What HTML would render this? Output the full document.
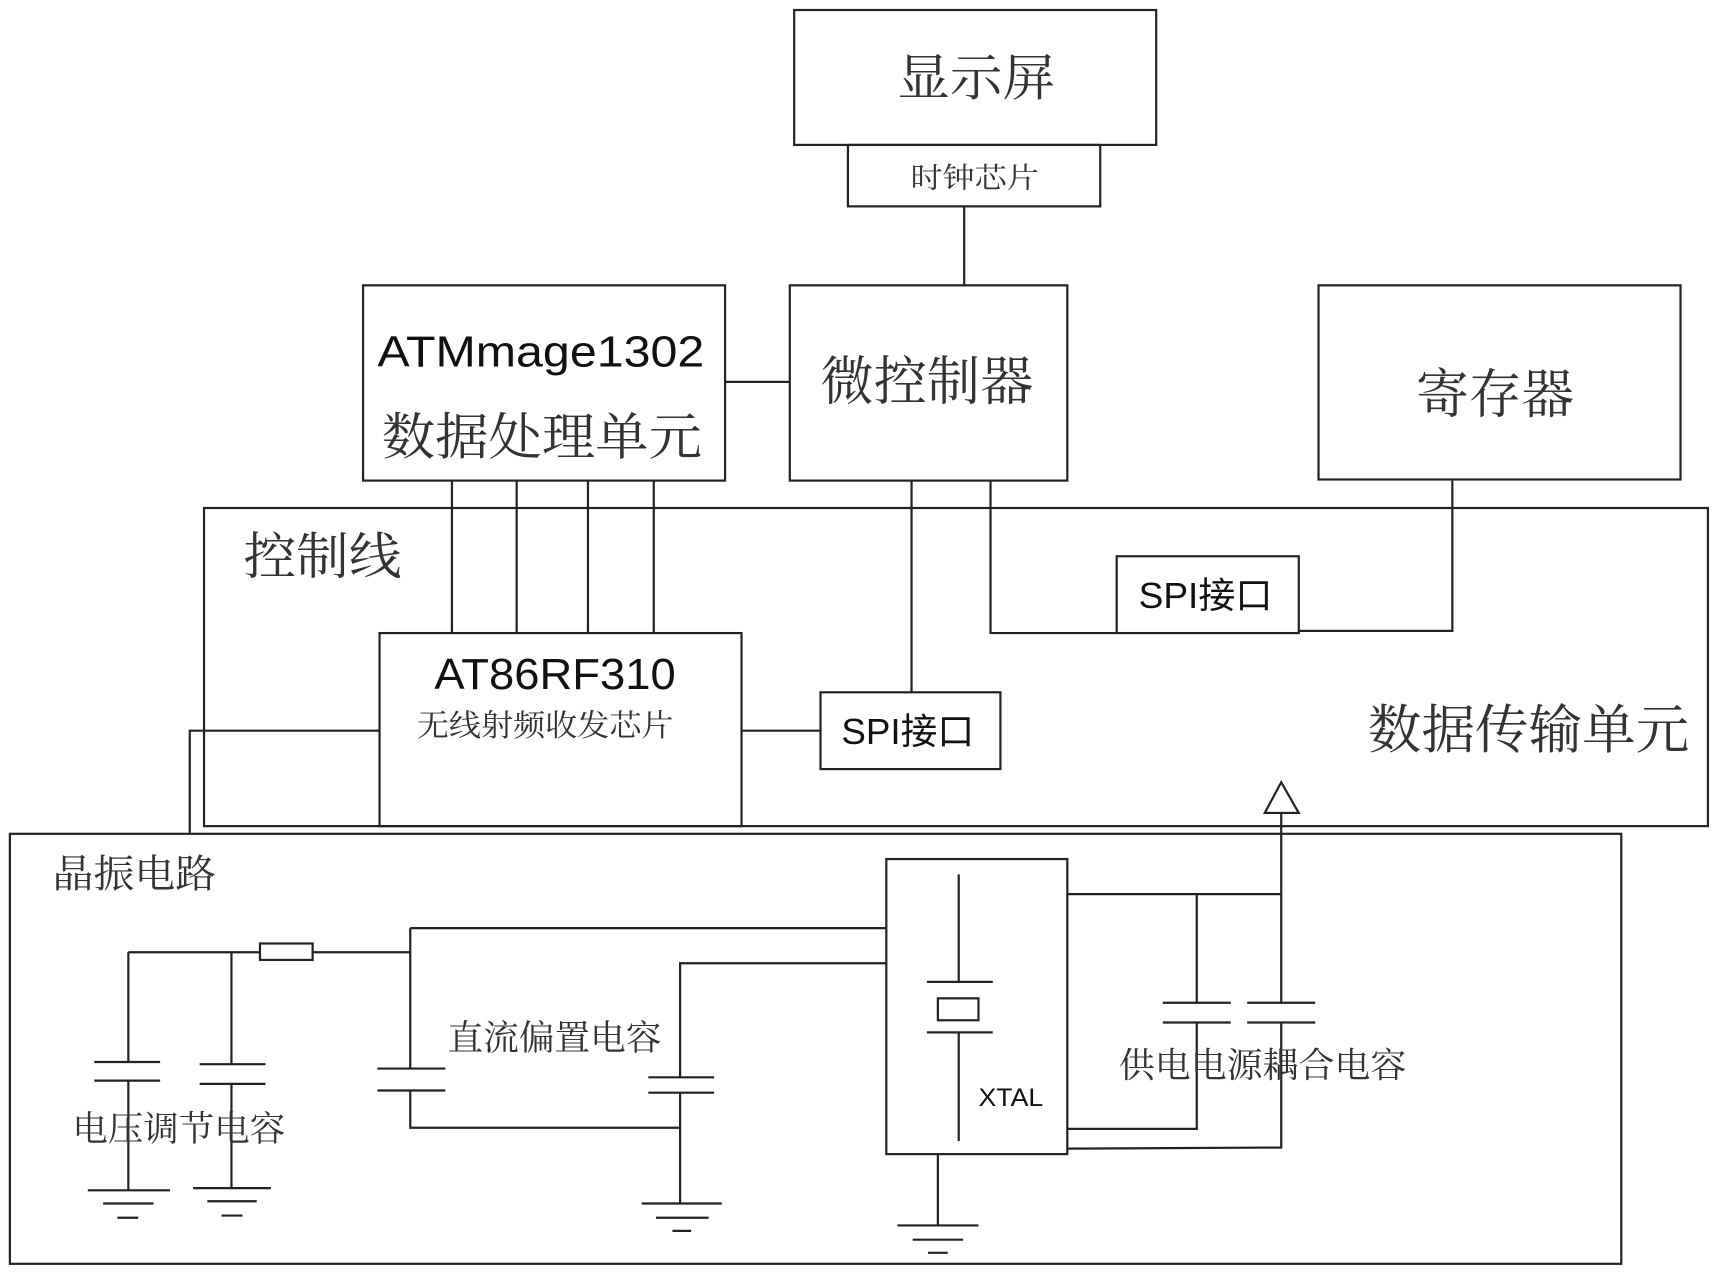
<!DOCTYPE html>
<html><head><meta charset="utf-8"><style>
html,body{margin:0;padding:0;background:#fff;}
svg{display:block;}
text{font-family:"Liberation Sans","Noto Serif CJK SC",serif;fill:#333;}
.s{font-family:"Liberation Sans","Noto Sans CJK SC",sans-serif;fill:#111;}
</style></head><body>
<svg width="1720" height="1276" viewBox="0 0 1568 1163" xmlns="http://www.w3.org/2000/svg">
<g fill="none" stroke="#222" stroke-width="2">
<rect x="724" y="9" width="330" height="123"/>
<rect x="773" y="132" width="230" height="56"/>
<line x1="879" y1="188" x2="879" y2="260"/>
<rect x="331" y="260" width="330" height="178"/>
<line x1="661" y1="348" x2="720" y2="348"/>
<rect x="720" y="260" width="253" height="178"/>
<rect x="1202" y="260" width="330" height="177"/>
<rect x="186" y="463" width="1371" height="290"/>
<line x1="412" y1="438" x2="412" y2="577"/>
<line x1="471" y1="438" x2="471" y2="577"/>
<line x1="536" y1="438" x2="536" y2="577"/>
<line x1="596" y1="438" x2="596" y2="577"/>
<rect x="346" y="577" width="330" height="176"/>
<line x1="676" y1="666" x2="748" y2="666"/>
<rect x="748" y="631" width="164" height="70"/>
<line x1="831" y1="438" x2="831" y2="631"/>
<polyline points="903,438 903,577 1018,577"/>
<rect x="1018" y="507" width="166" height="70"/>
<polyline points="1184,575 1324,575 1324,438"/>
<polyline points="346,666 173,666 173,760"/>
<polygon points="1168,713 1153,741 1184,741"/>
<line x1="1168" y1="741" x2="1168" y2="815"/>
<rect x="9" y="760" width="1469" height="392"/>
<rect x="808" y="783" width="165" height="269"/>
<line x1="874" y1="797" x2="874" y2="895"/>
<line x1="845" y1="895" x2="905" y2="895"/>
<rect x="855" y="910" width="37" height="20"/>
<line x1="845" y1="941" x2="905" y2="941"/>
<line x1="874" y1="941" x2="874" y2="1040"/>
<line x1="973" y1="815" x2="1168" y2="815"/>
<line x1="1091" y1="815" x2="1091" y2="914"/>
<line x1="1060" y1="914" x2="1122" y2="914"/>
<line x1="1060" y1="932" x2="1122" y2="932"/>
<polyline points="1091,932 1091,1029 973,1029"/>
<line x1="1168" y1="815" x2="1168" y2="914"/>
<line x1="1137" y1="914" x2="1199" y2="914"/>
<line x1="1137" y1="932" x2="1199" y2="932"/>
<polyline points="1168,932 1168,1046 973,1047"/>
<line x1="374" y1="846" x2="808" y2="846"/>
<polyline points="620,982 620,878 808,878"/>
<line x1="117" y1="868" x2="237" y2="868"/>
<rect x="237" y="860" width="48" height="15"/>
<line x1="285" y1="868" x2="374" y2="868"/>
<line x1="117" y1="868" x2="117" y2="968"/>
<line x1="86" y1="968" x2="146" y2="968"/>
<line x1="86" y1="985" x2="146" y2="985"/>
<line x1="117" y1="985" x2="117" y2="1085"/>
<line x1="80" y1="1085" x2="155" y2="1085"/>
<line x1="94" y1="1097" x2="140" y2="1097"/>
<line x1="107" y1="1110" x2="126" y2="1110"/>
<line x1="211" y1="868" x2="211" y2="970"/>
<line x1="182" y1="970" x2="242" y2="970"/>
<line x1="182" y1="988" x2="242" y2="988"/>
<line x1="211" y1="988" x2="211" y2="1083"/>
<line x1="176" y1="1083" x2="247" y2="1083"/>
<line x1="189" y1="1095" x2="234" y2="1095"/>
<line x1="202" y1="1108" x2="221" y2="1108"/>
<line x1="374" y1="846" x2="374" y2="974"/>
<line x1="344" y1="974" x2="406" y2="974"/>
<line x1="344" y1="994" x2="406" y2="994"/>
<polyline points="374,994 374,1028 620,1028"/>
<line x1="591" y1="982" x2="651" y2="982"/>
<line x1="591" y1="996" x2="651" y2="996"/>
<line x1="620" y1="996" x2="620" y2="1097"/>
<line x1="585" y1="1097" x2="658" y2="1097"/>
<line x1="598" y1="1110" x2="646" y2="1110"/>
<line x1="613" y1="1122" x2="630" y2="1122"/>
<line x1="855" y1="1052" x2="855" y2="1117"/>
<line x1="818" y1="1117" x2="892" y2="1117"/>
<line x1="832" y1="1130" x2="878" y2="1130"/>
<line x1="846" y1="1142" x2="864" y2="1142"/>
</g>
<g>
<text x="818" y="87" font-size="46" textLength="144" lengthAdjust="spacingAndGlyphs">显示屏</text>
<text x="830" y="171" font-size="26" textLength="117" lengthAdjust="spacingAndGlyphs">时钟芯片</text>
<text class="s" x="344" y="334" font-size="40" textLength="298" lengthAdjust="spacingAndGlyphs">ATMmage1302</text>
<text x="348" y="414" font-size="46" textLength="292" lengthAdjust="spacingAndGlyphs">数据处理单元</text>
<text x="748" y="364" font-size="48" textLength="194" lengthAdjust="spacingAndGlyphs">微控制器</text>
<text x="1291" y="376" font-size="48" textLength="144" lengthAdjust="spacingAndGlyphs">寄存器</text>
<text x="222" y="523" font-size="46" textLength="144" lengthAdjust="spacingAndGlyphs">控制线</text>
<text x="1247" y="682" font-size="48" textLength="293" lengthAdjust="spacingAndGlyphs">数据传输单元</text>
<text class="s" x="396" y="628" font-size="40" textLength="220" lengthAdjust="spacingAndGlyphs">AT86RF310</text>
<text x="380" y="671" font-size="28" textLength="234" lengthAdjust="spacingAndGlyphs">无线射频收发芯片</text>
<text class="s" x="767" y="678" font-size="33" textLength="121" lengthAdjust="spacingAndGlyphs">SPI接口</text>
<text class="s" x="1038" y="554" font-size="33" textLength="122" lengthAdjust="spacingAndGlyphs">SPI接口</text>
<text x="48" y="809" font-size="36" textLength="149" lengthAdjust="spacingAndGlyphs">晶振电路</text>
<text class="s" x="892" y="1008" font-size="23" textLength="59" lengthAdjust="spacingAndGlyphs">XTAL</text>
<text x="1020" y="982" font-size="32" textLength="262" lengthAdjust="spacingAndGlyphs">供电电源耦合电容</text>
<text x="408" y="957" font-size="32" textLength="195" lengthAdjust="spacingAndGlyphs">直流偏置电容</text>
<text x="66" y="1040" font-size="32" textLength="194" lengthAdjust="spacingAndGlyphs">电压调节电容</text>
</g>
</svg>
</body></html>
